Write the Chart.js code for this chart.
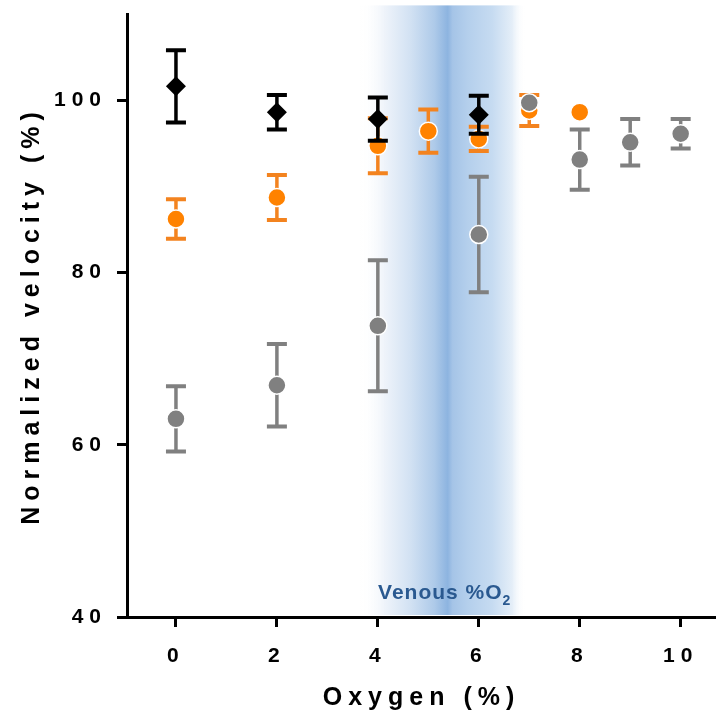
<!DOCTYPE html>
<html lang="en">
<head>
    <meta charset="UTF-8">
    <title>Normalized velocity vs oxygen</title>
    <script src="https://cdn.jsdelivr.net/npm/chart.js"></script>
    <style>
        html, body { margin: 0; padding: 0; background: #fff; }
    </style>
</head>
<body>
<canvas id="chart" width="716" height="716"></canvas>

<script>
    // data (mean +/- error)
    const blackX = [0, 2, 4, 6];
    const blackY = [101.6, 98.6, 97.8, 98.3];
    const blackErr = [4.2, 2.0, 2.5, 2.2];

    const orangeX = [0, 2, 4, 5, 6, 7, 8];
    const orangeY = [86.2, 88.7, 94.7, 96.4, 95.5, 98.8, 98.6];
    const orangeErr = [2.3, 2.6, 3.2, 2.5, 1.4, 1.8, 0];

    const grayX = [0, 2, 4, 6, 7, 8, 9, 10];
    const grayY = [63.0, 66.9, 73.8, 84.4, 99.7, 93.1, 95.1, 96.1];
    const grayErr = [3.8, 4.8, 7.6, 6.7, 0, 3.5, 2.7, 1.7];

    const xTicks = [0, 2, 4, 6, 8, 10];
    const yTicks = [40, 60, 80, 100];

    // venous oxygen range shaded in blue
    const venousRange = [3.65, 6.92];

    function points(xs, ys) {
        return xs.map((x, i) => ({ x: x, y: ys[i] }));
    }

    const letterSpacing = {
        id: 'letterSpacing',
        beforeLayout(chart) { chart.ctx.letterSpacing = '6px'; },
        beforeDraw(chart) { chart.ctx.letterSpacing = '6px'; }
    };

    const venousBand = {
        id: 'venousBand',
        beforeDatasetsDraw(chart) {
            const { ctx, scales: { x, y } } = chart;
            const x0 = x.getPixelForValue(venousRange[0]);
            const x1 = x.getPixelForValue(venousRange[1]);
            const top = y.getPixelForValue(111);
            const bottom = y.getPixelForValue(40) - 2;

            const g = ctx.createLinearGradient(x0, 0, x1, 0);
            g.addColorStop(0, 'rgba(255,255,255,0)');
            g.addColorStop(0.15, '#eef3fa');
            g.addColorStop(0.3, '#d3e2f3');
            g.addColorStop(0.45, '#aecae9');
            g.addColorStop(0.53, '#8db4e0');
            g.addColorStop(0.56, '#a5c4e7');
            g.addColorStop(0.65, '#b4cfec');
            g.addColorStop(0.8, '#c6dbf1');
            g.addColorStop(0.92, '#e4eef8');
            g.addColorStop(1, 'rgba(255,255,255,0)');

            ctx.save();
            ctx.fillStyle = g;
            ctx.fillRect(x0, top, x1 - x0, bottom - top);

            // label
            ctx.letterSpacing = '1px';
            ctx.fillStyle = '#2a5990';
            ctx.textBaseline = 'alphabetic';
            ctx.textAlign = 'left';
            const main = 'Venous %O';
            const sub = '2';
            const bigFont = 'bold 21px "Liberation Sans", Arial, sans-serif';
            const smallFont = 'bold 14px "Liberation Sans", Arial, sans-serif';
            ctx.font = bigFont;
            const w1 = ctx.measureText(main).width;
            ctx.font = smallFont;
            const w2 = ctx.measureText(sub).width;
            const cx = (x0 + x1) / 2 + 2;
            const base = y.getPixelForValue(42.1);
            const left = cx - (w1 + w2) / 2;
            ctx.font = bigFont;
            ctx.fillText(main, left, base);
            ctx.font = smallFont;
            ctx.fillText(sub, left + w1, base + 6);
            ctx.restore();
        }
    };

    const errorBars = {
        id: 'errorBars',
        beforeDatasetDraw(chart, args) {
            const ds = chart.data.datasets[args.index];
            const { ctx, scales: { y } } = chart;
            ctx.save();
            ctx.strokeStyle = ds.errColor;
            ctx.lineCap = 'butt';
            args.meta.data.forEach((pt, i) => {
                const e = ds.errors[i];
                if (!e) return;
                const v = ds.data[i].y;
                const yt = y.getPixelForValue(v + e);
                const yb = y.getPixelForValue(v - e);
                ctx.lineWidth = 3.5;
                ctx.beginPath();
                ctx.moveTo(pt.x, yt);
                ctx.lineTo(pt.x, yb);
                ctx.stroke();
                ctx.lineWidth = 4;
                ctx.beginPath();
                ctx.moveTo(pt.x - 10, yt);
                ctx.lineTo(pt.x + 10, yt);
                ctx.moveTo(pt.x - 10, yb);
                ctx.lineTo(pt.x + 10, yb);
                ctx.stroke();
            });
            ctx.restore();
        }
    };

    const tickFont = { family: '"Liberation Sans", Arial, sans-serif', size: 21, weight: 'bold' };
    const titleFont = { family: '"Liberation Sans", Arial, sans-serif', size: 25, weight: 'bold' };

    new Chart(document.getElementById('chart'), {
        type: 'scatter',
        data: {
            datasets: [
                {
                    label: 'black',
                    data: points(blackX, blackY),
                    errors: blackErr,
                    errColor: '#000000',
                    pointStyle: 'rectRot',
                    pointRadius: 10,
                    backgroundColor: '#000000',
                    borderColor: '#000000',
                    borderWidth: 0
                },
                {
                    label: 'gray',
                    data: points(grayX, grayY),
                    errors: grayErr,
                    errColor: '#808080',
                    pointStyle: 'circle',
                    pointRadius: 9,
                    backgroundColor: '#808080',
                    borderColor: '#ffffff',
                    borderWidth: 1.5
                },
                {
                    label: 'orange',
                    data: points(orangeX, orangeY),
                    errors: orangeErr,
                    errColor: '#f3831f',
                    pointStyle: 'circle',
                    pointRadius: 9,
                    backgroundColor: '#ff8200',
                    borderColor: '#ffffff',
                    borderWidth: 1.5
                }
            ]
        },
        options: {
            responsive: false,
            animation: false,
            devicePixelRatio: 1,
            layout: { autoPadding: false, padding: { top: 14, left: 0, right: 0, bottom: 0 } },
            plugins: {
                legend: { display: false },
                tooltip: { enabled: false }
            },
            scales: {
                x: {
                    type: 'linear',
                    min: -0.97,
                    max: 10.7,
                    afterBuildTicks: s => { s.ticks = xTicks.map(v => ({ value: v })); },
                    afterFit: s => { s.height = 99; s.paddingLeft = 0; s.paddingRight = 0; },
                    border: { color: '#000', width: 3 },
                    grid: { drawOnChartArea: false, color: '#000', lineWidth: 3, tickLength: 10 },
                    ticks: { color: '#000', font: tickFont, padding: 17, maxRotation: 0 },
                    title: {
                        display: true, text: 'Oxygen (%)', color: '#000', font: titleFont,
                        padding: { top: 0, bottom: 3 }
                    }
                },
                y: {
                    min: 40,
                    max: 110,
                    afterBuildTicks: s => { s.ticks = yTicks.map(v => ({ value: v })); },
                    afterFit: s => { s.width = 127; s.paddingTop = 0; s.paddingBottom = 0; },
                    border: { color: '#000', width: 3 },
                    grid: { drawOnChartArea: false, color: '#000', lineWidth: 3, tickLength: 10 },
                    ticks: { color: '#000', font: tickFont, padding: 10 },
                    title: {
                        display: true, text: 'Normalized velocity (%)', color: '#000', font: titleFont,
                        padding: { top: 17, bottom: 0 }
                    }
                }
            }
        },
        plugins: [letterSpacing, venousBand, errorBars]
    });
</script>
</body>
</html>
